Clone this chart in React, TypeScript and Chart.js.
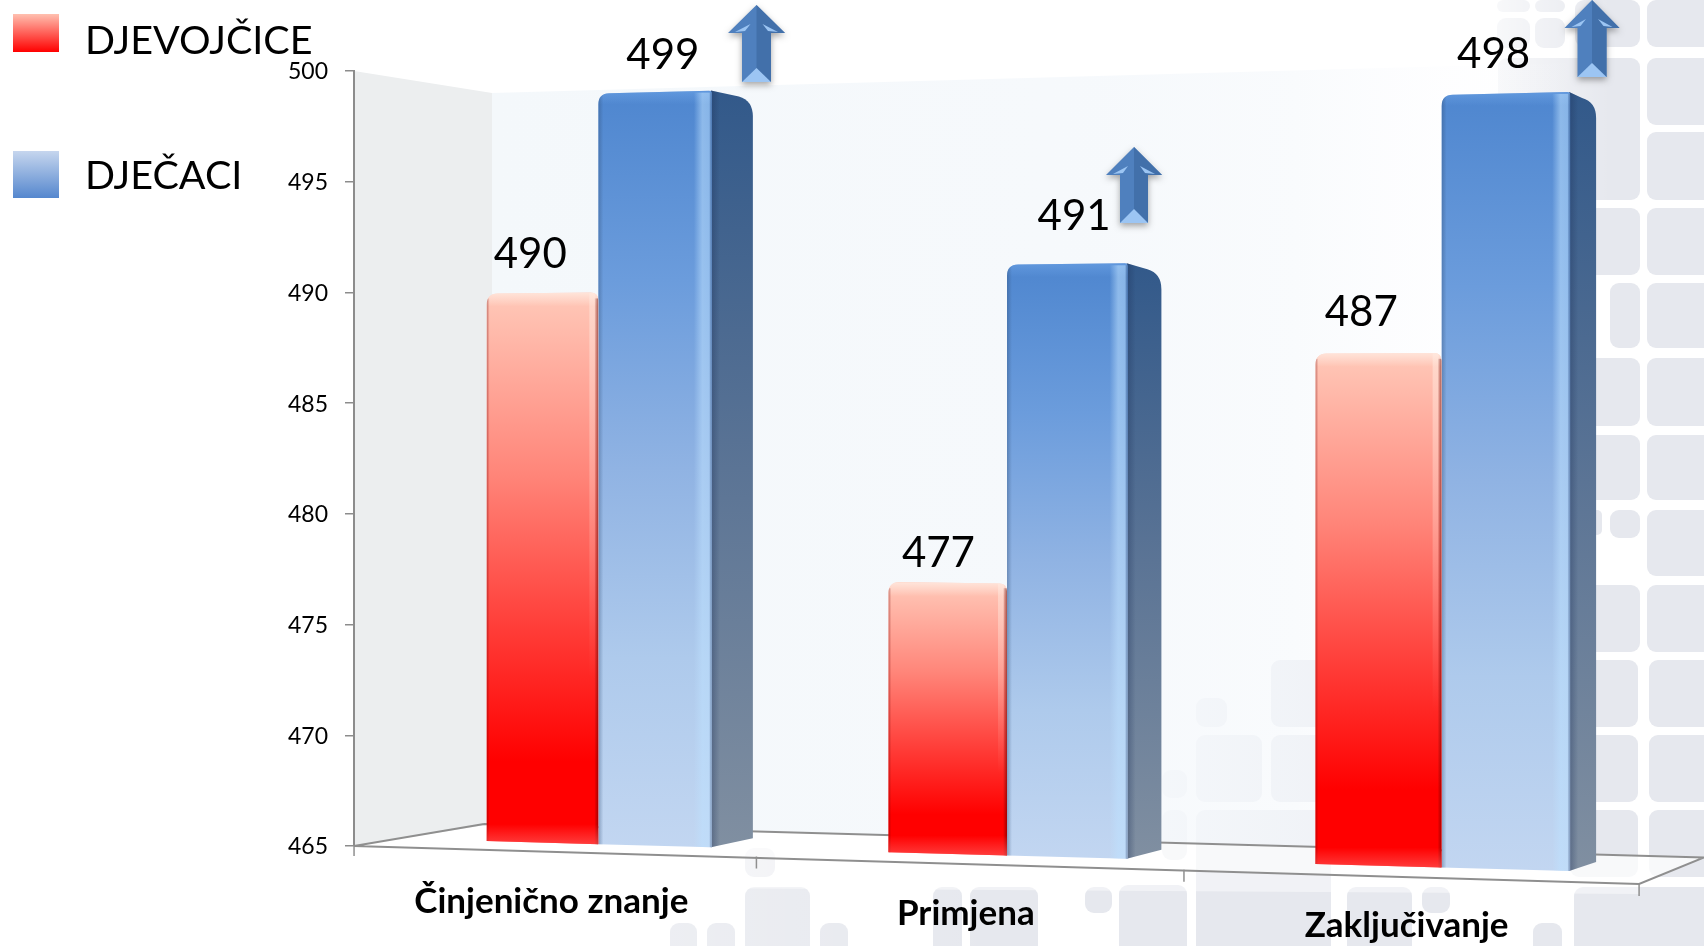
import React, { useEffect, useRef } from "react";
import { Chart, registerables, BarController, BarElement } from "chart.js";

// ---------- data ----------
const categories = ["Činjenično znanje", "Primjena", "Zaključivanje"];
const djevojcice = [490, 477, 487];
const djecaci = [499, 491, 498];
const seriesNames = ["DJEVOJČICE", "DJEČACI"];
const yMin = 465;
const yMax = 500;
const yStep = 5;

// ---------- style ----------
const FONT = "Lato";
const RED = "#FF0000";
const BLUE = "#5587CE";
const VALUE_OFFSETS = [
  [[-12, -39], [-9, -29], [-17, -41]],
  [[8, -37], [7, -48], [-12, -39]],
];
const ARROWS = [
  { x: 756.5, top: 5, wing: 33, half: 28.5, shaft: 14.5, bottom: 82 },
  { x: 1134, top: 147, wing: 175, half: 28, shaft: 14, bottom: 223 },
  { x: 1592, top: 0, wing: 28, half: 27.5, shaft: 14.5, bottom: 77 },
];
// decorative page background tiles: x0, y0, x1, y1
const TILES = [
  [1497, 0, 1530, 12], [1535, 0, 1565, 12], [1575, 0, 1640, 47], [1647, 0, 1720, 47],
  [1497, 18, 1530, 48], [1535, 18, 1565, 48], [1498, 58, 1640, 200], [1647, 58, 1720, 125],
  [1647, 132, 1720, 200], [1570, 208, 1640, 275], [1647, 208, 1720, 275], [1610, 283, 1640, 348],
  [1647, 283, 1720, 348], [1570, 358, 1640, 426], [1647, 358, 1720, 426], [1570, 435, 1640, 500],
  [1647, 435, 1720, 500], [1610, 510, 1640, 538], [1592, 510, 1602, 535], [1647, 510, 1720, 576],
  [1570, 585, 1640, 652], [1647, 585, 1720, 652], [1570, 660, 1638, 727], [1649, 660, 1720, 727],
  [1570, 735, 1638, 802], [1649, 735, 1720, 802], [1570, 810, 1638, 877], [1649, 810, 1720, 877],
  [1271, 660, 1340, 727], [1196, 698, 1227, 727], [1196, 735, 1262, 802], [1271, 735, 1340, 802],
  [1162, 770, 1187, 798], [1162, 810, 1187, 860], [1196, 810, 1331, 960], [1119, 885, 1187, 960],
  [1085, 887, 1112, 913], [1347, 887, 1412, 960], [1422, 887, 1450, 913], [1533, 923, 1562, 960],
  [1574, 887, 1720, 960], [745, 848, 775, 877], [745, 887, 810, 960], [670, 923, 697, 960],
  [707, 923, 735, 960], [820, 923, 848, 960], [933, 887, 962, 960], [970, 887, 1038, 960],
];

// ---------- perspective: flat chart pixels -> pictured pixels ----------
const FLAT_CENTER = 997;
const faceX = (x: number) => {
  const t = x - FLAT_CENTER;
  return (1007 + 0.9104 * t) / (1 - 7.18e-5 * t);
};
const frontX = (x: number) => {
  const t = x - FLAT_CENTER;
  return (966.9 + 0.9277 * t) / (1 - 7.18e-5 * t);
};
const faceBase = (X: number) => 841 + 0.0277 * (X - 485);
const faceStretch = (X: number) => (21.98 + (X - 542) * 0.00158) / 22.114;
const floorFrontY = (X: number) => 844 + 0.0311 * (X - 354);
const floorBackY = (X: number) => 824 + 0.0274 * (X - 485);
const sideDepth = (X: number) => 41 - (X - 711) * 0.0175;

function stops(g: CanvasGradient, list: [number, string][]) {
  list.forEach(([o, c]) => g.addColorStop(o, c));
  return g;
}

const RED_STOPS: [number, string][] = [[0, "#FFC9B9"], [0.33, "#FF8579"], [0.6, "#FF3F3A"], [0.85, "#FF0000"], [1, "#FF0000"]];
const BLUE_STOPS: [number, string][] = [[0, "#4E86CF"], [0.25, "#6B9CDC"], [0.5, "#90B3E3"], [0.75, "#AECAEC"], [1, "#C2D6F1"]];

// ---------- 3D bar element ----------
class Bar3DElement extends BarElement {
  static id = "bar3dElement";
  draw(ctx: CanvasRenderingContext2D) {
    const { x, y, base, width } = (this as any).getProps(["x", "y", "base", "width"]);
    const L = faceX(x - width / 2);
    const R = faceX(x + width / 2);
    const flatH = base - y;
    const bl = faceBase(L);
    const br = faceBase(R);
    const tl = bl - flatH * faceStretch(L);
    const tr = br - flatH * faceStretch(R);
    const isBlue = (this as any).options.backgroundColor === BLUE;
    const rl = 11;
    const rr = isBlue ? 3 : 8;
    ctx.save();

    if (isBlue) {
      const d = sideDepth(R);
      const sg = ctx.createLinearGradient(0, tr, 0, br);
      stops(sg, [[0, "#32598A"], [0.5, "#5B7495"], [1, "#808FA1"]]);
      ctx.fillStyle = sg;
      ctx.beginPath();
      ctx.moveTo(R - 1, tr);
      ctx.lineTo(R + d - 14, tr + 6);
      ctx.quadraticCurveTo(R + d, tr + 10, R + d, tr + 26);
      ctx.lineTo(R + d, br - 9);
      ctx.lineTo(R - 1, br);
      ctx.closePath();
      ctx.fill();
      const dg = ctx.createLinearGradient(R, 0, R + 8, 0);
      stops(dg, [[0, "rgba(30,50,90,0.35)"], [1, "rgba(30,50,90,0)"]]);
      ctx.fillStyle = dg;
      ctx.fill();
    }

    // front face
    ctx.beginPath();
    ctx.moveTo(L, bl);
    ctx.lineTo(L, tl + rl);
    ctx.quadraticCurveTo(L, tl, L + rl, tl - 0.3);
    ctx.lineTo(R - rr, tr + 0.1);
    ctx.quadraticCurveTo(R, tr, R, tr + rr);
    ctx.lineTo(R, br);
    ctx.closePath();
    const g = ctx.createLinearGradient(0, Math.min(tl, tr), 0, Math.max(bl, br));
    stops(g, isBlue ? BLUE_STOPS : RED_STOPS);
    ctx.fillStyle = g;
    ctx.fill();
    ctx.clip();
    const top = Math.min(tl, tr);
    const bottom = Math.max(bl, br);

    // top bevel
    const tb = ctx.createLinearGradient(0, top, 0, top + 14);
    stops(tb, isBlue
      ? [[0, "rgba(120,175,240,0.45)"], [1, "rgba(120,175,240,0)"]]
      : [[0, "rgba(255,240,232,0.7)"], [1, "rgba(255,240,232,0)"]]);
    ctx.fillStyle = tb;
    ctx.fillRect(L, top, R - L, 14);

    if (isBlue) {
      // right highlight strip
      const hx = ctx.createLinearGradient(R - 18, 0, R - 1, 0);
      stops(hx, [[0, "rgba(190,225,255,0)"], [0.5, "rgba(190,225,255,0.55)"], [0.9, "rgba(190,225,255,0.5)"], [1, "rgba(90,120,160,0.5)"]]);
      ctx.fillStyle = hx;
      ctx.fillRect(R - 18, top + 2, 18, bottom - top);
      const lx = ctx.createLinearGradient(L, 0, L + 5, 0);
      stops(lx, [[0, "rgba(50,80,120,0.4)"], [1, "rgba(50,80,120,0)"]]);
      ctx.fillStyle = lx;
      ctx.fillRect(L, top, 5, bottom - top);
    } else {
      // pale right strip that fades down the bar
      const hx = ctx.createLinearGradient(0, top, 0, top + (bottom - top) * 0.7);
      stops(hx, [[0, "rgba(255,235,225,0.5)"], [1, "rgba(255,235,225,0)"]]);
      ctx.fillStyle = hx;
      ctx.fillRect(R - 9, top, 6, (bottom - top) * 0.7);
      const rx = ctx.createLinearGradient(R - 4, 0, R, 0);
      stops(rx, [[0, "rgba(90,0,0,0)"], [1, "rgba(90,0,0,0.55)"]]);
      ctx.fillStyle = rx;
      ctx.fillRect(R - 4, top + 6, 4, bottom - top);
      const ex = ctx.createLinearGradient(L, 0, L + 3, 0);
      stops(ex, [[0, "rgba(120,0,0,0.4)"], [1, "rgba(120,0,0,0)"]]);
      ctx.fillStyle = ex;
      ctx.fillRect(L, top + 6, 3, bottom - top);
      const bb = ctx.createLinearGradient(0, bottom - 20, 0, bottom);
      stops(bb, [[0, "rgba(255,110,110,0)"], [1, "rgba(255,110,110,0.55)"]]);
      ctx.fillStyle = bb;
      ctx.fillRect(L, bottom - 20, R - L, 20);
    }
    ctx.restore();
  }
}

class Bar3DController extends BarController {
  static id = "bar3d";
  static defaults = { ...(BarController as any).defaults, dataElementType: "bar3dElement" };
  static overrides = (BarController as any).overrides;
}

Chart.register(...registerables, Bar3DElement as any, Bar3DController as any);

// ---------- scenery plugin ----------
function roundRect(ctx: CanvasRenderingContext2D, x0: number, y0: number, x1: number, y1: number, r: number) {
  ctx.beginPath();
  ctx.roundRect(x0, y0, x1 - x0, y1 - y0, r);
}

const scenery = {
  id: "scenery",
  beforeDraw(chart: any) {
    const ctx: CanvasRenderingContext2D = chart.ctx;
    const W = chart.width;
    const H = chart.height;
    const { left, top, bottom } = chart.chartArea;
    const xScale = chart.scales.x;
    ctx.save();
    ctx.fillStyle = "#FFFFFF";
    ctx.fillRect(0, 0, W, H);

    // background tiles
    ctx.fillStyle = "#E6E8EE";
    TILES.forEach(([a, b, c, d]) => {
      roundRect(ctx, a, b, c, d, 9);
      ctx.fill();
    });
    // tiles fade away to the left below the chart
    const fade = ctx.createLinearGradient(640, 0, 1000, 0);
    stops(fade, [[0, "rgba(255,255,255,0.3)"], [1, "rgba(255,255,255,0)"]]);
    ctx.fillStyle = fade;
    ctx.fillRect(640, 840, 360, 106);
    // tiles fade away to the left at the top right
    const fadeTop = ctx.createLinearGradient(1490, 0, 1610, 0);
    stops(fadeTop, [[0, "rgba(255,255,255,0.75)"], [1, "rgba(255,255,255,0)"]]);
    ctx.fillStyle = fadeTop;
    ctx.fillRect(1490, 0, 120, 205);

    const wallX = 492;
    const wallBottom = floorBackY(wallX);
    // back wall
    ctx.beginPath();
    ctx.moveTo(wallX, top + 22);
    ctx.lineTo(W, top - 12);
    ctx.lineTo(W, floorBackY(W));
    ctx.lineTo(wallX, wallBottom);
    ctx.closePath();
    const wall = ctx.createLinearGradient(wallX, 0, W, 0);
    stops(wall, [[0, "rgba(244,248,251,1)"], [0.5, "rgba(246,249,252,0.98)"], [0.66, "rgba(246,249,252,0.68)"], [0.8, "rgba(250,251,254,0.22)"], [0.9, "rgba(250,251,254,0)"], [1, "rgba(250,251,254,0)"]]);
    ctx.fillStyle = wall;
    ctx.fill();

    // left wall
    ctx.beginPath();
    ctx.moveTo(left, top);
    ctx.lineTo(wallX, top + 22);
    ctx.lineTo(wallX, wallBottom);
    ctx.lineTo(left, bottom);
    ctx.closePath();
    ctx.fillStyle = "#ECEEEF";
    ctx.fill();

    // floor
    const rightFront = frontX(xScale.right);
    ctx.beginPath();
    ctx.moveTo(left, bottom);
    ctx.lineTo(wallX, wallBottom);
    ctx.lineTo(W, floorBackY(W));
    ctx.lineTo(rightFront, floorFrontY(rightFront));
    ctx.closePath();
    ctx.fillStyle = "rgba(255,255,255,0.72)";
    ctx.fill();

    // fade just below the front edge
    ctx.beginPath();
    ctx.moveTo(left, bottom);
    ctx.lineTo(rightFront, floorFrontY(rightFront));
    ctx.lineTo(rightFront, floorFrontY(rightFront) + 10);
    ctx.lineTo(left, bottom + 40);
    ctx.closePath();
    ctx.fillStyle = "rgba(255,255,255,0.45)";
    ctx.fill();

    // floor outline
    ctx.strokeStyle = "#8F8F8F";
    ctx.lineWidth = 2;
    ctx.beginPath();
    ctx.moveTo(left, bottom);
    ctx.lineTo(rightFront, floorFrontY(rightFront));
    ctx.lineTo(W, floorBackY(W));
    ctx.lineTo(wallX - 8, floorBackY(wallX - 8));
    ctx.moveTo(left, bottom);
    ctx.lineTo(wallX - 8, floorBackY(wallX - 8));
    ctx.stroke();

    // category ticks on the front edge
    ctx.lineWidth = 1.5;
    const band = (xScale.right - xScale.left) / categories.length;
    for (let i = 0; i <= categories.length; i++) {
      const X = frontX(xScale.left + band * i);
      const Y = floorFrontY(X);
      ctx.beginPath();
      ctx.moveTo(X, Y);
      ctx.lineTo(X, Y + 12);
      ctx.stroke();
    }
    ctx.restore();
  },
  afterDatasetsDraw(chart: any) {
    const ctx: CanvasRenderingContext2D = chart.ctx;
    const xScale = chart.scales.x;
    ctx.save();

    // value labels
    ctx.fillStyle = "#000000";
    ctx.textAlign = "center";
    ctx.textBaseline = "middle";
    ctx.font = `42px ${FONT}`;
    chart.data.datasets.forEach((ds: any, di: number) => {
      const meta = chart.getDatasetMeta(di);
      meta.data.forEach((el: any, i: number) => {
        const X = faceX(el.x);
        const Y = faceBase(X) - (el.base - el.y) * faceStretch(X);
        const [dx, dy] = VALUE_OFFSETS[di][i];
        ctx.fillText(String(ds.data[i]), X + dx, Y + dy);
      });
    });

    // category labels
    ctx.font = `bold 35px ${FONT}`;
    chart.data.labels.forEach((label: string, i: number) => {
      const X = faceX(xScale.getPixelForTick(i));
      ctx.fillText(label, X - 47 + (X - 598) * 0.0142, faceBase(X) + 58);
    });

    // legend
    const rows = [
      { y0: 14, y1: 52, text: 41, cols: [[0, "#FFC0B0"], [1, "#FF0000"]] },
      { y0: 151, y1: 198, text: 176, cols: [[0, "#C6D6EE"], [1, "#5587CE"]] },
    ];
    ctx.textAlign = "left";
    ctx.font = `39.5px ${FONT}`;
    chart.data.datasets.forEach((ds: any, i: number) => {
      const row = rows[i];
      const g = ctx.createLinearGradient(0, row.y0, 0, row.y1);
      stops(g, row.cols as [number, string][]);
      ctx.fillStyle = g;
      ctx.fillRect(13, row.y0, 46, row.y1 - row.y0);
      ctx.fillStyle = "#000000";
      ctx.fillText(ds.label, 85, row.text);
    });

    // arrows
    ARROWS.forEach((a) => {
      ctx.save();
      ctx.shadowColor = "rgba(0,0,0,0.35)";
      ctx.shadowBlur = 6;
      ctx.shadowOffsetY = 3;
      ctx.beginPath();
      ctx.moveTo(a.x, a.top);
      ctx.lineTo(a.x + a.half, a.wing);
      ctx.lineTo(a.x + a.shaft, a.wing);
      ctx.lineTo(a.x + a.shaft, a.bottom);
      ctx.lineTo(a.x - a.shaft, a.bottom);
      ctx.lineTo(a.x - a.shaft, a.wing);
      ctx.lineTo(a.x - a.half, a.wing);
      ctx.closePath();
      ctx.fillStyle = "#4F80BE";
      ctx.fill();
      ctx.restore();
      // right facet
      ctx.beginPath();
      ctx.moveTo(a.x, a.top);
      ctx.lineTo(a.x + a.half, a.wing);
      ctx.lineTo(a.x + a.shaft, a.wing);
      ctx.lineTo(a.x + a.shaft, a.bottom);
      ctx.lineTo(a.x, a.bottom);
      ctx.closePath();
      ctx.fillStyle = "#4270AA";
      ctx.fill();
      // light bottom triangle
      ctx.beginPath();
      ctx.moveTo(a.x - a.shaft, a.bottom);
      ctx.lineTo(a.x, a.bottom - 14);
      ctx.lineTo(a.x + a.shaft, a.bottom);
      ctx.closePath();
      ctx.fillStyle = "#9CC5F3";
      ctx.fill();
      // wing glints
      ctx.fillStyle = "#9CC5F3";
      [-1, 1].forEach((s) => {
        ctx.beginPath();
        ctx.moveTo(a.x + s * (a.half - 7), a.wing - 1);
        ctx.lineTo(a.x + s * 6, a.wing - 9);
        ctx.lineTo(a.x + s * (a.shaft - 3), a.wing - 2);
        ctx.closePath();
        ctx.fill();
      });
    });
    ctx.restore();
  },
};

export default function App() {
  const ref = useRef<HTMLCanvasElement | null>(null);
  useEffect(() => {
    const chart = new Chart(ref.current as HTMLCanvasElement, {
      type: "bar3d" as any,
      data: {
        labels: categories,
        datasets: [
          { label: seriesNames[0], data: djevojcice, backgroundColor: RED, base: yMin, clip: false },
          { label: seriesNames[1], data: djecaci, backgroundColor: BLUE, base: yMin, clip: false },
        ],
      },
      options: {
        responsive: false,
        animation: false,
        layout: { padding: { left: 0, top: 71, right: 64, bottom: 0 } },
        plugins: { legend: { display: false }, title: { display: false }, tooltip: { enabled: false } },
        datasets: { bar3d: { categoryPercentage: 0.568, barPercentage: 1 } } as any,
        scales: {
          x: {
            type: "category",
            offset: true,
            ticks: { display: false },
            grid: { display: false },
            border: { display: false },
            afterFit: (s: any) => { s.height = 100; },
          },
          y: {
            type: "linear",
            min: yMin,
            max: yMax,
            ticks: { stepSize: yStep, color: "#000000", padding: 17, labelOffset: 1, font: { family: FONT, size: 23 } },
            grid: { drawOnChartArea: false, drawTicks: true, tickLength: 9, color: "#8C8C8C", lineWidth: 1.5 },
            border: { display: true, color: "#8C8C8C", width: 2 },
            afterFit: (s: any) => { s.width = 354; },
          },
        },
      } as any,
      plugins: [scenery],
    });
    return () => chart.destroy();
  }, []);
  return (
    <div style={{ position: "absolute", left: 0, top: 0, width: 1704, height: 946, overflow: "hidden" }}>
      <canvas ref={ref} width={1704} height={946} style={{ display: "block" }} />
    </div>
  );
}
